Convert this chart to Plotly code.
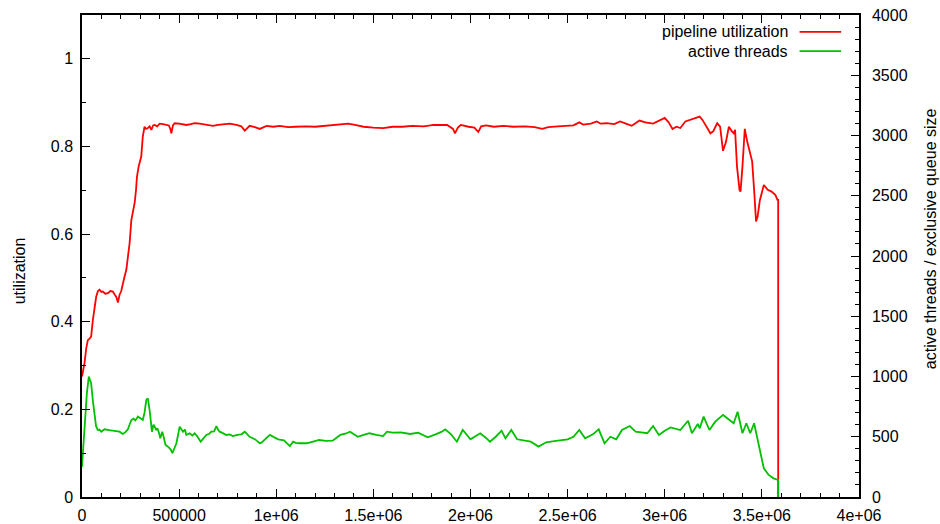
import plotly.graph_objects as go

# ---------------- data ----------------
util_x = [0, 13000, 22000, 30000, 40000, 47000, 56000, 65000, 73000, 82000, 90000, 100000, 107000,
          120000, 133000, 146000, 159000, 168000, 176000, 185000, 193000, 202000, 210000, 220000,
          228000, 237000, 245000, 254000, 262000, 271000, 278000, 283000, 292000, 300000, 305000,
          313000, 322000, 330000, 339000, 348000, 357000, 366000, 374000, 387000, 400000, 417000,
          434000, 447000, 455000, 460000, 468000, 477000, 500000, 520000, 537000, 560000, 580000,
          606000, 640000, 674000, 700000, 730000, 760000, 795000, 820000, 838000, 863000, 890000,
          915000, 950000, 985000, 1018000, 1060000, 1100000, 1150000, 1200000, 1260000, 1320000,
          1370000, 1405000, 1450000, 1500000, 1550000, 1600000, 1650000, 1700000, 1760000, 1810000,
          1880000, 1910000, 1920000, 1935000, 1950000, 1990000, 2020000, 2040000, 2055000, 2080000,
          2120000, 2170000, 2220000, 2280000, 2330000, 2370000, 2400000, 2450000, 2500000, 2530000,
          2560000, 2580000, 2620000, 2650000, 2670000, 2700000, 2740000, 2770000, 2800000, 2830000,
          2870000, 2900000, 2940000, 2970000, 3000000, 3020000, 3040000, 3060000, 3080000, 3106000,
          3140000, 3180000, 3195000, 3210000, 3235000, 3250000, 3270000, 3285000, 3300000, 3315000,
          3330000, 3345000, 3355000, 3362000, 3372000, 3385000, 3390000, 3400000, 3412000, 3425000,
          3435000, 3450000, 3460000, 3470000, 3478000, 3490000, 3510000, 3530000, 3550000, 3570000,
          3580000, 3584000, 3584000]
util_y = [0.275, 0.306, 0.340, 0.358, 0.362, 0.366, 0.404, 0.440, 0.457, 0.470, 0.473, 0.468, 0.469,
          0.464, 0.465, 0.470, 0.469, 0.462, 0.457, 0.444, 0.461, 0.470, 0.488, 0.505,
          0.518, 0.550, 0.579, 0.632, 0.650, 0.671, 0.700, 0.731, 0.755, 0.766, 0.777,
          0.823, 0.845, 0.840, 0.842, 0.846, 0.838, 0.848, 0.849, 0.846, 0.852, 0.851,
          0.849, 0.848, 0.840, 0.830, 0.848, 0.853, 0.852, 0.850, 0.849, 0.851, 0.853,
          0.852, 0.850, 0.847, 0.849, 0.851, 0.852, 0.849, 0.846, 0.836, 0.847, 0.844,
          0.840, 0.847, 0.845, 0.847, 0.844, 0.845, 0.846, 0.845, 0.847, 0.849,
          0.852, 0.849, 0.845, 0.843, 0.842, 0.845, 0.845, 0.847, 0.846, 0.849,
          0.849, 0.840, 0.830, 0.843, 0.849, 0.845, 0.843, 0.833, 0.846, 0.848,
          0.845, 0.847, 0.845, 0.846, 0.844, 0.840, 0.844, 0.846, 0.847, 0.848,
          0.855, 0.850, 0.852, 0.857, 0.852, 0.853, 0.851, 0.857, 0.852, 0.847,
          0.859, 0.855, 0.852, 0.858, 0.865, 0.855, 0.840, 0.845, 0.842, 0.857,
          0.862, 0.868, 0.860, 0.849, 0.830, 0.835, 0.853, 0.845, 0.790, 0.810,
          0.845, 0.835, 0.830, 0.838, 0.754, 0.700, 0.697, 0.754, 0.840, 0.810,
          0.790, 0.766, 0.701, 0.629, 0.640, 0.678, 0.712, 0.701, 0.697, 0.689,
          0.678, 0.678, 0.0]

threads_x = [0, 13000, 25000, 35000, 47000, 56000, 64000, 72000, 81000, 90000, 99000, 116000, 140000,
             159000, 180000, 193000, 210000, 225000, 236000, 254000, 265000, 275000, 288000, 300000,
             313000, 322000, 331000, 339000, 348000, 360000, 368000, 374000, 382000, 388000, 395000,
             403000, 413000, 420000, 430000, 447000, 458000, 465000, 476000, 486000, 495000, 503000,
             512000, 520000, 530000, 537000, 554000, 568000, 580000, 595000, 611000, 625000, 640000,
             655000, 666000, 680000, 692000, 700000, 709000, 725000, 743000, 760000, 777000, 800000,
             820000, 838000, 850000, 863000, 890000, 915000, 924000, 945000, 967000, 990000, 1010000,
             1040000, 1070000, 1087000, 1100000, 1120000, 1156000, 1190000, 1220000, 1255000, 1290000,
             1330000, 1355000, 1380000, 1400000, 1420000, 1450000, 1480000, 1515000, 1550000, 1570000,
             1600000, 1640000, 1690000, 1730000, 1780000, 1820000, 1850000, 1870000, 1900000, 1930000,
             1960000, 2000000, 2030000, 2050000, 2080000, 2100000, 2130000, 2160000, 2180000, 2210000,
             2240000, 2280000, 2310000, 2350000, 2390000, 2440000, 2500000, 2530000, 2560000, 2590000,
             2630000, 2660000, 2690000, 2720000, 2750000, 2780000, 2820000, 2850000, 2880000, 2910000,
             2940000, 2970000, 3000000, 3030000, 3080000, 3120000, 3140000, 3170000, 3180000, 3200000,
             3230000, 3260000, 3300000, 3330000, 3355000, 3375000, 3400000, 3420000, 3440000, 3460000,
             3475000, 3490000, 3510000, 3535000, 3560000, 3584000, 3584000]
threads_y = [251, 584, 861, 999, 944, 800, 667, 590, 556, 560, 542, 562, 555,
             550, 548, 542, 523, 540, 562, 639, 650, 635, 667, 650,
             639, 700, 805, 819, 722, 542, 600, 584, 555, 570, 540,
             487, 542, 500, 432, 412, 390, 363, 400, 446, 520, 584,
             560, 542, 560, 515, 529, 510, 529, 500, 459, 490, 515,
             525, 542, 545, 589, 560, 542, 530, 515, 520, 506, 515,
             520, 542, 520, 500, 480, 446, 451, 480, 515, 495, 479,
             470, 423, 459, 450, 446, 446, 460, 473, 465, 467,
             515, 525, 542, 520, 500, 515, 529, 515, 506, 542,
             535, 537, 523, 534, 495, 520, 540, 562, 520, 459,
             556, 479, 510, 529, 490, 459, 500, 550, 487, 556,
             479, 470, 459, 418, 454, 465, 479, 500, 556, 487,
             520, 562, 446, 500, 479, 556, 589, 542, 535, 529,
             589, 515, 550, 578, 556, 633, 529, 606, 570, 667,
             556, 625, 681, 639, 612, 708, 529, 612, 529, 612,
             500, 363, 238, 183, 155, 141, 0]

x_tickvals = [0, 500000, 1000000, 1500000, 2000000, 2500000, 3000000, 3500000, 4000000]
x_ticktext = ["0", "500000", "1e+06", "1.5e+06", "2e+06", "2.5e+06", "3e+06", "3.5e+06", "4e+06"]

names = ["pipeline utilization", "active threads"]
colors = ["#ff0000", "#00c000"]

# ---------------- figure ----------------
FONT = "Liberation Sans, Arial, Helvetica, sans-serif"
FS = 16
fig = go.Figure()
fig.add_trace(go.Scatter(x=util_x, y=util_y, mode="lines", name=names[0],
                         line=dict(color=colors[0], width=1.8)))
fig.add_trace(go.Scatter(x=threads_x, y=threads_y, mode="lines", name=names[1], yaxis="y2",
                         line=dict(color=colors[1], width=1.8)))

axis_common = dict(ticks="inside", ticklen=8, tickwidth=1.3, tickcolor="black",
                   showline=True, linecolor="black", linewidth=1.5,
                   showgrid=False, zeroline=False, automargin=False,
                   tickfont=dict(family=FONT, size=FS, color="black"))

fig.update_layout(
    width=940, height=524,
    margin=dict(l=82, r=81, t=15, b=27),
    plot_bgcolor="white", paper_bgcolor="white",
    showlegend=False,
    font=dict(family=FONT, size=FS, color="black"),
    xaxis=dict(range=[0, 4000000], tickmode="array", tickvals=x_tickvals, ticktext=x_ticktext,
               mirror="ticks", ticklabelstandoff=3,
               minor=dict(tickmode="linear", tick0=0, dtick=100000, ticks="inside", ticklen=4,
                          tickwidth=1.3, tickcolor="black"),
               **axis_common),
    yaxis=dict(range=[0, 1.1], tickmode="linear", tick0=0, dtick=0.2, mirror=True,
               ticklabelstandoff=4,
               minor=dict(tickmode="linear", tick0=0, dtick=0.1, ticks="inside", ticklen=4,
                          tickwidth=1.3, tickcolor="black"),
               **axis_common),
    yaxis2=dict(range=[0, 4000], overlaying="y", side="right", tickmode="linear", tick0=0, dtick=500,
                ticklabelstandoff=8,
                minor=dict(tickmode="linear", tick0=0, dtick=100, ticks="inside", ticklen=4,
                           tickwidth=1.3, tickcolor="black"),
                **axis_common),
)

# axis titles
fig.add_annotation(text="utilization", xref="paper", yref="paper", x=-0.08, y=0.47,
                   xanchor="center", yanchor="middle",
                   textangle=-90, showarrow=False, font=dict(family=FONT, size=FS))
fig.add_annotation(text="active threads / exclusive queue size", xref="paper", yref="paper",
                   x=1.0914, y=0.535, xanchor="center", yanchor="middle",
                   textangle=-90, showarrow=False, font=dict(family=FONT, size=FS))

# key (gnuplot style: text then line sample)
key_y = [0.965, 0.925]
for i in range(2):
    fig.add_annotation(text=names[i], xref="paper", yref="paper", x=0.911, y=key_y[i],
                       xanchor="right", yanchor="middle", showarrow=False,
                       font=dict(family=FONT, size=FS))
    fig.add_shape(type="line", xref="paper", yref="paper", x0=0.9235, x1=0.977,
                  y0=key_y[i], y1=key_y[i], line=dict(color=colors[i], width=1.8))

fig.write_html("out.html")
